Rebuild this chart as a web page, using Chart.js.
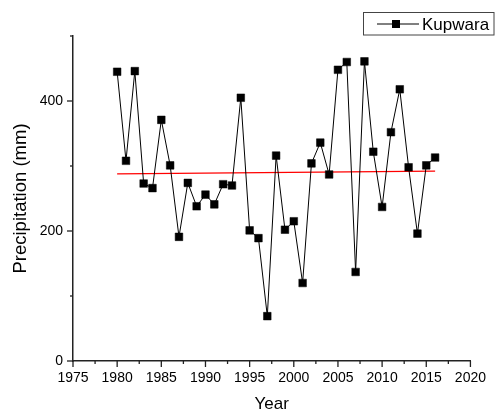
<!DOCTYPE html>
<html>
<head>
<meta charset="utf-8">
<script src="https://cdn.jsdelivr.net/npm/chart.js@4.4.1/dist/chart.umd.min.js"></script>
<style>
html,body{margin:0;padding:0;background:#fff;}
#wrap{width:495px;height:412px;position:relative;}
</style>
</head>
<body>
<div id="wrap"><canvas id="c" width="495" height="412"></canvas></div>
<script>
const seriesLabel = 'Kupwara';
const xTitle = 'Year';
const yTitle = 'Precipitation (mm)';
const years = [1980,1981,1982,1983,1984,1985,1986,1987,1988,1989,1990,1991,1992,1993,1994,1995,1996,1997,1998,1999,2000,2001,2002,2003,2004,2005,2006,2007,2008,2009,2010,2011,2012,2013,2014,2015,2016];
const precipitation = [445,308,446,273,266,371,301,191,274,238,256,241,272,270,405,201,189,69,316,202,215,120,304,336,287,448,460,137,461,322,237,352,418,298,196,301,313];
const trendYears = [1980, 2016];
const trendValues = [288, 292];
const xMajorTicks = [1975,1980,1985,1990,1995,2000,2005,2010,2015,2020];
const yMajorTicks = [0,200,400];

const FONT = "'Liberation Sans', Arial, sans-serif";

const tickPlugin = {
  id: 'ticksDraw',
  afterDraw(chart) {
    const ctx = chart.ctx;
    const xs = chart.scales.x, ys = chart.scales.y;
    ctx.save();
    ctx.strokeStyle = '#222';
    ctx.lineWidth = 1.3;
    xs.ticks.forEach(t => {
      const px = xs.getPixelForValue(t.value);
      const len = xMajorTicks.includes(t.value) ? 6 : 3;
      ctx.beginPath();
      ctx.moveTo(px, xs.top);
      ctx.lineTo(px, xs.top + len);
      ctx.stroke();
    });
    ys.ticks.forEach(t => {
      const py = ys.getPixelForValue(t.value);
      const len = yMajorTicks.includes(t.value) ? 6 : 3;
      ctx.beginPath();
      ctx.moveTo(ys.right, py);
      ctx.lineTo(ys.right - len, py);
      ctx.stroke();
    });
    ctx.restore();
  }
};

const legendPlugin = {
  id: 'boxLegend',
  afterDraw(chart) {
    const ctx = chart.ctx;
    const ds = chart.data.datasets[0];
    ctx.save();
    ctx.strokeStyle = '#444';
    ctx.lineWidth = 1;
    ctx.strokeRect(363.5, 12.5, 130.5, 22.5);
    const cy = 24;
    ctx.strokeStyle = '#000';
    ctx.lineWidth = 1;
    ctx.beginPath();
    ctx.moveTo(377, cy);
    ctx.lineTo(419, cy);
    ctx.stroke();
    ctx.fillStyle = '#000';
    ctx.fillRect(396 - 4, cy - 4, 8, 8);
    ctx.font = '17px ' + FONT;
    ctx.textBaseline = 'middle';
    ctx.textAlign = 'left';
    ctx.fillText(ds.label, 422, cy + 1);
    ctx.restore();
  }
};

new Chart(document.getElementById('c'), {
  type: 'line',
  data: {
    datasets: [
      {
        label: seriesLabel,
        data: years.map((y, i) => ({x: y, y: precipitation[i]})),
        borderColor: '#000',
        borderWidth: 1,
        pointStyle: 'rect',
        pointRadius: 5.4,
        pointBackgroundColor: '#000',
        pointBorderColor: '#000',
        pointBorderWidth: 0.5,
        tension: 0,
        order: 1
      },
      {
        label: 'trend',
        data: trendYears.map((y, i) => ({x: y, y: trendValues[i]})),
        borderColor: '#ff0000',
        borderWidth: 1.2,
        pointRadius: 0,
        tension: 0,
        order: 2
      }
    ]
  },
  options: {
    responsive: false,
    animation: false,
    events: [],
    layout: { padding: { top: 36, right: 24, left: 0, bottom: 0 } },
    plugins: { legend: { display: false }, tooltip: { enabled: false } },
    scales: {
      x: {
        type: 'linear',
        min: 1975, max: 2020,
        afterFit(s) { s.height = 51; },
        grid: { display: false, drawTicks: false },
        border: { display: true, color: '#222', width: 1.5 },
        ticks: {
          stepSize: 2.5,
          autoSkip: false,
          maxRotation: 0,
          padding: 9,
          color: '#000',
          font: { family: FONT, size: 14 },
          callback: v => (xMajorTicks.includes(v) ? String(v) : '')
        },
        title: {
          display: true, text: xTitle, color: '#000',
          font: { family: FONT, size: 17, lineHeight: 1 },
          padding: { top: 0, bottom: -1 }
        }
      },
      y: {
        type: 'linear',
        min: 0, max: 500,
        afterFit(s) { s.width = 73; },
        grid: { display: false, drawTicks: false },
        border: { display: true, color: '#222', width: 1.5 },
        ticks: {
          stepSize: 100,
          autoSkip: false,
          padding: 10,
          color: '#000',
          font: { family: FONT, size: 14 },
          callback: v => (yMajorTicks.includes(v) ? String(v) : '')
        },
        title: {
          display: true, text: yTitle, color: '#000',
          font: { family: FONT, size: 18.5, lineHeight: 1 },
          padding: { top: 12, bottom: 0 }
        }
      }
    }
  },
  plugins: [tickPlugin, legendPlugin]
});
</script>
</body>
</html>
